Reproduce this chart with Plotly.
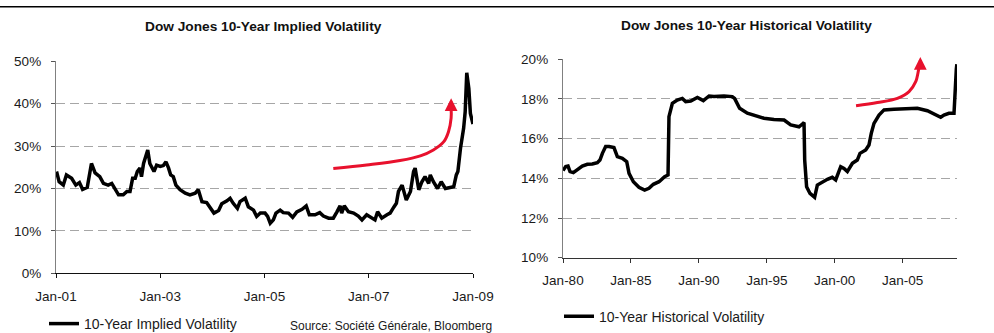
import plotly.graph_objects as go

# ---------------- data ----------------
# Left chart: Dow Jones 10-Year Implied Volatility (decimal year, %)
implied_t = [2001.01, 2001.06, 2001.14, 2001.20, 2001.30, 2001.38, 2001.45, 2001.51, 2001.60, 2001.68,
             2001.75, 2001.84, 2001.91, 2002.00, 2002.07, 2002.13, 2002.20, 2002.29, 2002.36, 2002.42,
             2002.47, 2002.52, 2002.56, 2002.61, 2002.64, 2002.68, 2002.71, 2002.76, 2002.80, 2002.88,
             2002.93, 2003.00, 2003.06, 2003.11, 2003.16, 2003.20, 2003.25, 2003.30, 2003.38, 2003.48,
             2003.57, 2003.67, 2003.73, 2003.80, 2003.89, 2003.96, 2004.03, 2004.12, 2004.18, 2004.28,
             2004.34, 2004.40, 2004.48, 2004.53, 2004.63, 2004.69, 2004.79, 2004.85, 2004.92, 2005.01,
             2005.06, 2005.11, 2005.17, 2005.22, 2005.30, 2005.36, 2005.46, 2005.54, 2005.62, 2005.72,
             2005.80, 2005.86, 2005.97, 2006.06, 2006.13, 2006.23, 2006.32, 2006.39, 2006.45, 2006.48,
             2006.53, 2006.61, 2006.71, 2006.80, 2006.87, 2006.96, 2007.06, 2007.12, 2007.17, 2007.25,
             2007.35, 2007.41, 2007.48, 2007.53, 2007.57, 2007.64, 2007.72, 2007.80, 2007.86, 2007.89,
             2007.96, 2008.02, 2008.08, 2008.15, 2008.18, 2008.24, 2008.32, 2008.39, 2008.47, 2008.56,
             2008.63, 2008.68, 2008.71, 2008.76, 2008.82, 2008.85, 2008.88, 2008.92, 2008.95, 2009.00]
implied_v = [24.0, 21.6, 20.8, 23.2, 22.4, 20.8, 21.4, 19.8, 20.3, 25.9,
             23.7, 22.8, 21.2, 20.8, 21.2, 20.0, 18.5, 18.5, 19.3, 19.3,
             22.4, 22.4, 24.0, 24.8, 22.8, 25.9, 27.1, 29.1, 25.9, 24.0,
             25.5, 25.2, 25.4, 26.3, 24.8, 23.2, 22.8, 20.8, 19.7, 18.9,
             18.5, 18.9, 19.7, 16.9, 16.7, 15.3, 14.2, 14.8, 16.4, 17.1,
             17.7, 16.5, 15.3, 16.9, 17.7, 15.7, 14.9, 13.4, 14.2, 14.2,
             13.4, 11.8, 12.6, 14.2, 14.9, 14.3, 14.2, 13.2, 14.5, 15.1,
             15.9, 13.8, 13.8, 14.3, 13.5, 13.0, 13.0, 14.5, 15.9, 14.2,
             15.9, 14.5, 14.2, 13.5, 12.6, 13.8, 13.0, 12.6, 14.5, 13.0,
             13.8, 14.2, 15.6, 16.5, 19.3, 20.8, 17.3, 19.3, 24.0, 24.8,
             19.7, 21.6, 22.8, 21.2, 23.2, 21.6, 20.0, 21.6, 20.0, 20.3,
             20.4, 23.2, 24.0, 29.5, 34.2, 38.1, 47.3, 43.6, 37.7, 35.2]

# Right chart: Dow Jones 10-Year Historical Volatility (decimal year, %)
hist_t = [1980.00, 1980.20, 1980.37, 1980.52, 1980.76, 1981.05, 1981.42, 1981.79, 1982.16, 1982.53,
          1982.72, 1982.90, 1983.14, 1983.39, 1983.75, 1984.00, 1984.37, 1984.69, 1984.86, 1985.18,
          1985.59, 1986.01, 1986.33, 1986.65, 1987.07, 1987.48, 1987.73, 1987.80, 1988.05, 1988.41,
          1988.78, 1989.03, 1989.40, 1989.89, 1990.33, 1990.75, 1991.11, 1991.85, 1992.46, 1992.63,
          1993.00, 1993.57, 1994.30, 1994.79, 1995.53, 1996.27, 1996.76, 1997.37, 1997.62, 1997.74,
          1997.79, 1997.93, 1998.18, 1998.52, 1998.72, 1999.09, 1999.46, 1999.82, 2000.07, 2000.44,
          2000.68, 2000.93, 2001.30, 2001.66, 2001.86, 2002.28, 2002.52, 2002.69, 2002.89, 2003.26,
          2003.63, 2004.36, 2005.34, 2006.08, 2006.82, 2007.43, 2007.80, 2008.04, 2008.41, 2008.78,
          2008.86, 2008.95, 2008.99]
hist_v = [14.39, 14.59, 14.62, 14.34, 14.29, 14.42, 14.62, 14.71, 14.72, 14.79,
          14.92, 15.26, 15.60, 15.60, 15.55, 15.09, 15.01, 14.84, 14.25, 13.83,
          13.55, 13.41, 13.50, 13.70, 13.83, 14.08, 14.17, 17.11, 17.78, 17.95,
          18.03, 17.87, 17.90, 18.08, 17.92, 18.15, 18.12, 18.15, 18.12, 18.03,
          17.53, 17.28, 17.14, 17.03, 16.97, 16.94, 16.69, 16.60, 16.74, 16.81,
          14.92, 13.58, 13.24, 13.04, 13.66, 13.83, 13.95, 14.05, 13.92, 14.59,
          14.50, 14.34, 14.76, 14.92, 15.26, 15.43, 15.68, 16.27, 16.77, 17.19,
          17.45, 17.48, 17.53, 17.53, 17.41, 17.23, 17.08, 17.19, 17.28, 17.28,
          18.79, 19.50, 19.75]

# Red trend arrows (decimal year, %)
arrow1_t = [2006.32, 2006.96, 2007.60, 2007.99, 2008.24, 2008.44, 2008.53, 2008.58, 2008.58]
arrow1_v = [24.7, 25.55, 26.6, 27.7, 29.1, 31.05, 33.4, 36.6, 39.0]
arrow1_tip = 41.3
arrow2_t = [2001.57, 2003.14, 2004.61, 2005.47, 2005.96, 2006.20, 2006.30]
arrow2_v = [17.66, 17.82, 18.03, 18.37, 18.87, 19.55, 19.75]
arrow2_tip = 20.12

# tick labels
left_tickvals = [2001, 2003, 2005, 2007, 2009]
left_ticktext = ["Jan-01", "Jan-03", "Jan-05", "Jan-07", "Jan-09"]
right_tickvals = [1980, 1985, 1990, 1995, 2000, 2005]
right_ticktext = ["Jan-80", "Jan-85", "Jan-90", "Jan-95", "Jan-00", "Jan-05"]
left_yticks = [0, 10, 20, 30, 40, 50]
right_yticks = [10, 12, 14, 16, 18, 20]

titles = ["Dow Jones 10-Year Implied Volatility", "Dow Jones 10-Year Historical Volatility"]
series_names = ["10-Year Implied Volatility", "10-Year Historical Volatility"]
source_text = "Source: Société Générale, Bloomberg"

# ---------------- figure ----------------
W, H = 994, 333
FONT = "Liberation Sans, Arial, sans-serif"
RED = "#e8112d"

def px_x(p):
    return p / W

def px_y(p):
    return (H - p) / H

fig = go.Figure()

fig.add_trace(go.Scatter(x=implied_t, y=implied_v, mode="lines", name=series_names[0],
                         line=dict(color="black", width=3.5), xaxis="x", yaxis="y", legend="legend"))
fig.add_trace(go.Scatter(x=hist_t, y=hist_v, mode="lines", name=series_names[1],
                         line=dict(color="black", width=3.5), xaxis="x2", yaxis="y2", legend="legend2"))

fig.add_trace(go.Scatter(x=arrow1_t, y=arrow1_v, mode="lines", showlegend=False, hoverinfo="skip",
                         line=dict(color=RED, width=3, shape="spline"), xaxis="x", yaxis="y"))
fig.add_trace(go.Scatter(x=arrow2_t, y=arrow2_v, mode="lines", showlegend=False, hoverinfo="skip",
                         line=dict(color=RED, width=3, shape="spline"), xaxis="x2", yaxis="y2"))

fig.add_annotation(x=arrow1_t[-1], y=arrow1_tip, ax=arrow1_t[-1], ay=arrow1_v[-1],
                   xref="x", yref="y", axref="x", ayref="y", text="", showarrow=True,
                   arrowhead=2, arrowsize=0.85, arrowwidth=3, arrowcolor=RED)
fig.add_annotation(x=arrow2_t[-1], y=arrow2_tip, ax=arrow2_t[-1], ay=arrow2_v[-1],
                   xref="x2", yref="y2", axref="x2", ayref="y2", text="", showarrow=True,
                   arrowhead=2, arrowsize=0.85, arrowwidth=3, arrowcolor=RED)

tickfont = dict(family=FONT, size=13.5, color="#1a1a1a")
grid = dict(showgrid=True, gridcolor="#a6a6a6", gridwidth=1.3, griddash="9px,5px")

fig.update_layout(
    width=W, height=H, margin=dict(l=0, r=0, t=0, b=0, autoexpand=False),
    paper_bgcolor="white", plot_bgcolor="white",
    font=dict(family=FONT, color="black"),
    xaxis=dict(domain=[px_x(56), px_x(473)], range=[2001, 2009], anchor="y",
               tickvals=left_tickvals, ticktext=left_ticktext, tickfont=tickfont,
               showgrid=False, zeroline=False, showline=True, linecolor="#111", linewidth=1.3,
               ticks="outside", ticklen=4, tickcolor="#111", ticklabelstandoff=6),
    yaxis=dict(domain=[px_y(273.3), px_y(61.3)], range=[0, 50], anchor="x",
               tickvals=left_yticks, ticktext=[f"{v}%" for v in left_yticks], tickfont=tickfont,
               zeroline=False, showline=True, linecolor="#808080", linewidth=1.3,
               ticks="outside", ticklen=4, tickcolor="#555", ticklabelstandoff=7, **grid),
    xaxis2=dict(domain=[px_x(563), px_x(957)], range=[1980, 2009], anchor="y2",
                tickvals=right_tickvals, ticktext=right_ticktext, tickfont=tickfont,
                showgrid=False, zeroline=False, showline=True, linecolor="#333", linewidth=1.3,
                ticks="outside", ticklen=4, tickcolor="#333", ticklabelstandoff=6),
    yaxis2=dict(domain=[px_y(257.7), px_y(59.3)], range=[10, 20], anchor="x2",
                tickvals=right_yticks, ticktext=[f"{v}%" for v in right_yticks], tickfont=tickfont,
                zeroline=False, showline=True, linecolor="#808080", linewidth=1.3,
                ticks="outside", ticklen=4, tickcolor="#555", ticklabelstandoff=7, **grid),
    legend=dict(x=px_x(44), y=px_y(324), xanchor="left", yanchor="middle",
                font=dict(family=FONT, size=14, color="#1a1a1a"), bgcolor="rgba(0,0,0,0)",
                itemwidth=30),
    legend2=dict(x=px_x(559), y=px_y(316.7), xanchor="left", yanchor="middle",
                 font=dict(family=FONT, size=14, color="#1a1a1a"), bgcolor="rgba(0,0,0,0)",
                 itemwidth=30),
    showlegend=True,
)

# chart titles
fig.add_annotation(x=px_x(263), y=px_y(27), xref="paper", yref="paper", text=f"<b>{titles[0]}</b>",
                   showarrow=False, font=dict(family=FONT, size=13.7, color="#111"),
                   xanchor="center", yanchor="middle")
fig.add_annotation(x=px_x(746), y=px_y(25.5), xref="paper", yref="paper", text=f"<b>{titles[1]}</b>",
                   showarrow=False, font=dict(family=FONT, size=13.7, color="#111"),
                   xanchor="center", yanchor="middle")
# source note (kept fully inside the picture)
fig.add_annotation(x=px_x(288), y=px_y(325.5), xref="paper", yref="paper", text=source_text,
                   showarrow=False, font=dict(family=FONT, size=12, color="#1a1a1a"),
                   xanchor="left", yanchor="middle")

# top rule
fig.add_shape(type="line", xref="paper", yref="paper", x0=0, x1=1, y0=px_y(6.7), y1=px_y(6.7),
              line=dict(color="black", width=1.5))

fig.write_html("out.html")
